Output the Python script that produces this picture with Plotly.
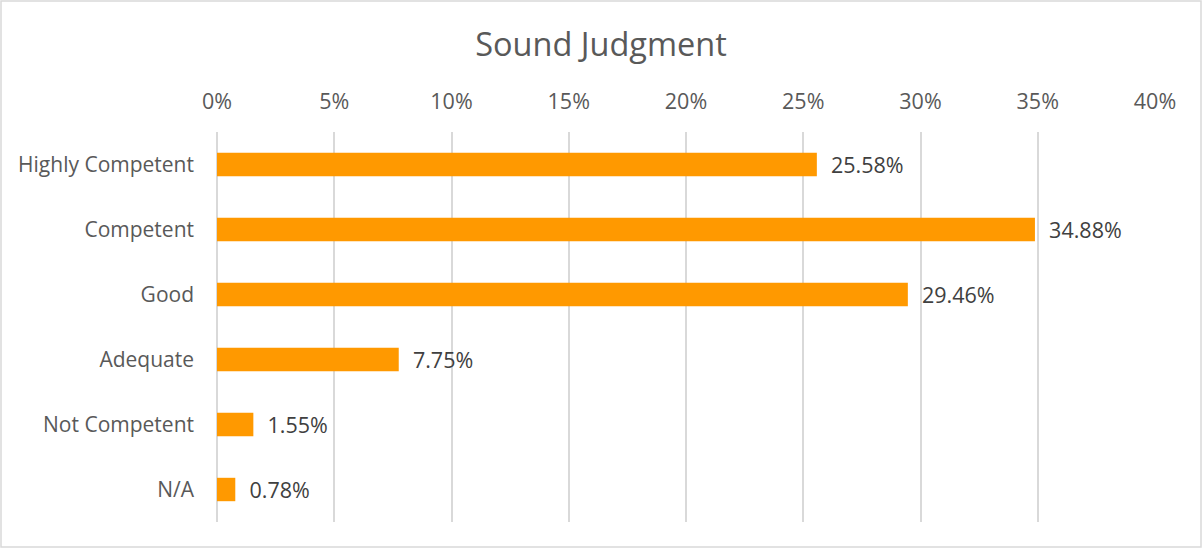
import plotly.graph_objects as go

categories = ["Highly Competent", "Competent", "Good", "Adequate", "Not Competent", "N/A"]
values = [25.58, 34.88, 29.46, 7.75, 1.55, 0.78]
tick_vals = [0, 5, 10, 15, 20, 25, 30, 35, 40]
tick_text = [f"{v}%" for v in tick_vals]

W, H = 1202, 548
L, R, T, B = 217, 47, 132, 26
FONT = "'Open Sans', 'Noto Sans', sans-serif"
FS = 21.5

fig = go.Figure(go.Bar(
    y=categories,
    x=values,
    orientation="h",
    marker=dict(color="#FF9900", line=dict(width=0)),
    text=[f"  {v:.2f}%" for v in values],
    textposition="outside",
    constraintext="none",
    textfont=dict(family=FONT, size=FS, color="#404040"),
    cliponaxis=False,
))

pw = W - L - R
ph = H - T - B
fig.add_shape(type="rect", xref="paper", yref="paper",
              x0=-(L - 1) / pw, x1=1 + (R - 1) / pw,
              y0=-(B - 1) / ph, y1=1 + (T - 1) / ph,
              line=dict(color="#D9D9D9", width=1.5), layer="below")

fig.update_layout(
    width=W, height=H,
    margin=dict(l=L, r=R, t=T, b=B),
    paper_bgcolor="white", plot_bgcolor="white",
    title=dict(text="Sound Judgment", x=0.5, xref="container", xanchor="center",
               y=1 - 45 / H, yanchor="middle",
               font=dict(family=FONT, size=32.5, color="#595959")),
    bargap=0.64,
    showlegend=False,
    xaxis=dict(side="top", range=[0, 40], tickvals=tick_vals, ticktext=tick_text,
               showgrid=True, gridcolor="#D9D9D9", gridwidth=1.5,
               zeroline=True, zerolinecolor="#D9D9D9", zerolinewidth=1.5,
               showline=False, ticks="", ticklabelstandoff=18,
               tickfont=dict(family=FONT, size=FS, color="#595959")),
    yaxis=dict(autorange="reversed", showgrid=False, showline=False, ticks="",
               ticklabelstandoff=22,
               tickfont=dict(family=FONT, size=21, color="#595959")),
)

fig.write_html("out.html", config={"displayModeBar": False},
               post_script="document.body.style.margin='0';document.body.style.overflow='hidden';")
